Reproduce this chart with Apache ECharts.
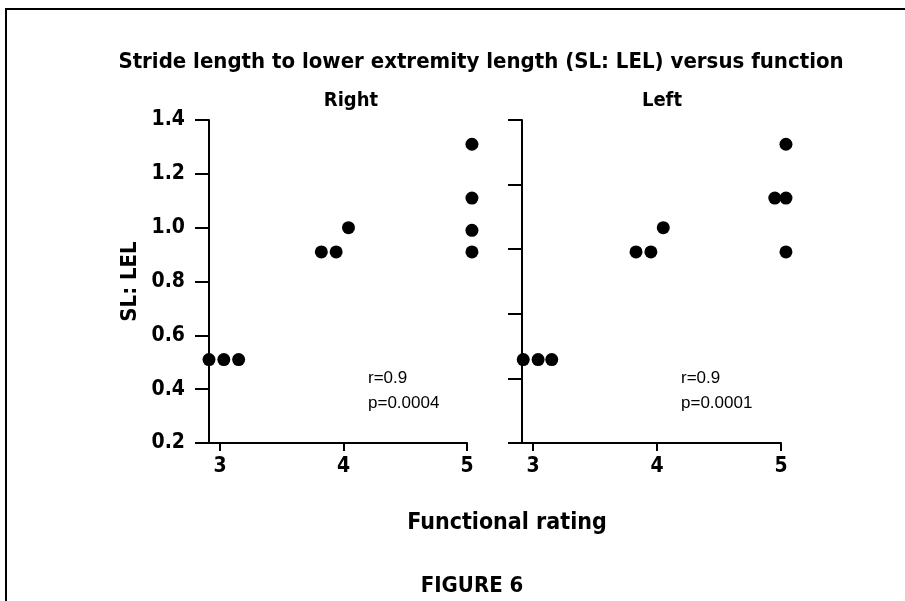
<!DOCTYPE html>
<html>
<head>
<meta charset="utf-8">
<script src="https://cdn.jsdelivr.net/npm/echarts@6/dist/echarts.min.js"></script>
<style>
html,body{margin:0;padding:0;background:#fff;}
#chart{width:905px;height:601px;}
</style>
</head>
<body>
<div id="chart"></div>
<script>
// ---- data ----
const xTicks = [3, 4, 5];
const yTicksRight = [0.2, 0.4, 0.6, 0.8, 1.0, 1.2, 1.4];
const yTicksLeftPanel = [0.2, 0.44, 0.68, 0.92, 1.16, 1.4];
const rightX = [2.91, 3.03, 3.15, 3.82, 3.94, 4.04, 5.04, 5.04, 5.04, 5.04];
const rightY = [0.51, 0.51, 0.51, 0.91, 0.91, 1.0, 1.31, 1.11, 0.99, 0.91];
const leftX = [2.92, 3.04, 3.15, 3.83, 3.95, 4.05, 5.04, 4.95, 5.04, 5.04];
const leftY = [0.51, 0.51, 0.51, 0.91, 0.91, 1.0, 1.31, 1.11, 1.11, 0.91];
const panelTitles = ['Right', 'Left'];
const statsRight = ['r=0.9', 'p=0.0004'];
const statsLeft = ['r=0.9', 'p=0.0001'];

const FB = '"Liberation Sans Narrow","DejaVu Sans Condensed","Arial Narrow","Liberation Sans",sans-serif';
const FN = '"Liberation Sans","DejaVu Sans",sans-serif';

const chart = echarts.init(document.getElementById('chart'), null, {renderer: 'canvas'});

function xAxisCfg(gi) {
  return {
    gridIndex: gi, type: 'value', min: 2.91, max: 5,
    axisLine: {show: true, lineStyle: {color: '#000', width: 2}},
    axisTick: {show: true, length: 8, lineStyle: {color: '#000', width: 2}, customValues: xTicks},
    axisLabel: {show: true, customValues: xTicks, color: '#000', fontFamily: FB, fontWeight: 'bold', fontSize: 21, margin: 13},
    splitLine: {show: false}
  };
}

const option = {
  backgroundColor: '#fff',
  animation: false,
  title: [
    {text: 'Stride length to lower extremity length (SL: LEL) versus function', left: 476, top: 46, textAlign: 'center',
     textStyle: {fontFamily: FB, fontWeight: 'bold', fontSize: 22, color: '#000'}},
    {text: panelTitles[0], left: 346, top: 86, textAlign: 'center',
     textStyle: {fontFamily: FB, fontWeight: 'bold', fontSize: 20, color: '#000'}},
    {text: panelTitles[1], left: 657, top: 86, textAlign: 'center',
     textStyle: {fontFamily: FB, fontWeight: 'bold', fontSize: 20, color: '#000'}},
    {text: 'Functional rating', left: 502, top: 507, textAlign: 'center',
     textStyle: {fontFamily: FB, fontWeight: 'bold', fontSize: 23, color: '#000'}},
    {text: 'FIGURE 6', left: 467, top: 570, textAlign: 'center',
     textStyle: {fontFamily: FB, fontWeight: 'bold', fontSize: 22, color: '#000'}}
  ],
  grid: [
    {left: 209, top: 120, width: 258, height: 323},
    {left: 522, top: 120, width: 259, height: 323}
  ],
  xAxis: [xAxisCfg(0), xAxisCfg(1)],
  yAxis: [
    {gridIndex: 0, type: 'value', min: 0.2, max: 1.4,
     axisLine: {show: true, lineStyle: {color: '#000', width: 2}},
     axisTick: {show: true, length: 14, lineStyle: {color: '#000', width: 2}, customValues: yTicksRight},
     axisLabel: {show: true, customValues: yTicksRight, color: '#000', fontFamily: FB, fontWeight: 'bold', fontSize: 21, margin: 24,
       formatter: v => v.toFixed(1)},
     splitLine: {show: false},
     name: 'SL: LEL', nameLocation: 'middle', nameRotate: 90, nameGap: 68,
     nameTextStyle: {fontFamily: FB, fontWeight: 'bold', fontSize: 22, color: '#000'}},
    {gridIndex: 1, type: 'value', min: 0.2, max: 1.4,
     axisLine: {show: true, lineStyle: {color: '#000', width: 2}},
     axisTick: {show: true, length: 14, lineStyle: {color: '#000', width: 2}, customValues: yTicksLeftPanel},
     axisLabel: {show: true, customValues: yTicksLeftPanel, formatter: () => '', fontSize: 21},
     splitLine: {show: false}}
  ],
  series: [
    {type: 'scatter', xAxisIndex: 0, yAxisIndex: 0, symbolSize: 13, clip: false,
     itemStyle: {color: '#000', opacity: 1}, data: rightX.map((x, i) => [x, rightY[i]])},
    {type: 'scatter', xAxisIndex: 1, yAxisIndex: 1, symbolSize: 13, clip: false,
     itemStyle: {color: '#000', opacity: 1}, data: leftX.map((x, i) => [x, leftY[i]])}
  ],
  graphic: [
    {type: 'line', shape: {x1: 5, y1: 9, x2: 905, y2: 9}, style: {stroke: '#000', lineWidth: 2}},
    {type: 'line', shape: {x1: 6, y1: 9, x2: 6, y2: 601}, style: {stroke: '#000', lineWidth: 2}},
    {type: 'text', left: 368, top: 366, style: {text: statsRight.join('\n'), fontFamily: FN, fontSize: 17, lineHeight: 25, fill: '#000'}},
    {type: 'text', left: 681, top: 366, style: {text: statsLeft.join('\n'), fontFamily: FN, fontSize: 17, lineHeight: 25, fill: '#000'}}
  ]
};
chart.setOption(option);
</script>
</body>
</html>
